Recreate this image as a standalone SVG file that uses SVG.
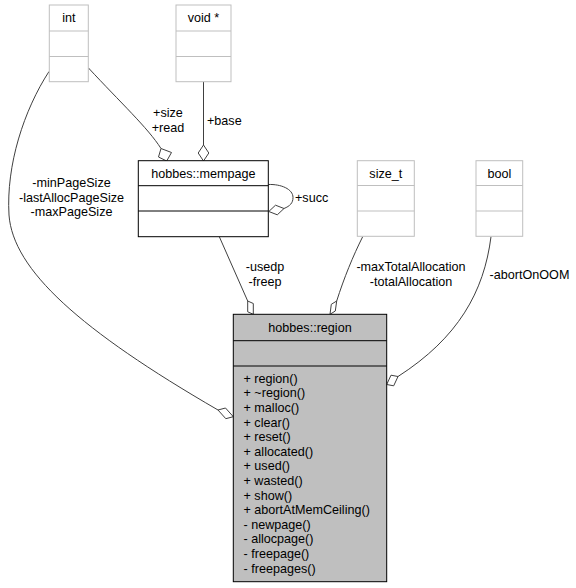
<svg xmlns="http://www.w3.org/2000/svg" width="576" height="588" viewBox="0 0 576 588">
<style>
text { font-family: "Liberation Sans", Arial, sans-serif; font-size: 12.6px; fill: #000; }
.c { text-anchor: middle; }
.ext rect, .ext line { fill: #fff; stroke: #bfbfbf; stroke-width: 1; }
.ext line { fill: none; }
.cls rect { fill: #fff; stroke: #000; stroke-width: 1; }
.cls line { stroke: #000; stroke-width: 1; }
.main rect { fill: #bfbfbf; stroke: #000; stroke-width: 1; }
.main line { stroke: #000; stroke-width: 1; }
.edge { fill: none; stroke: #404040; stroke-width: 1; }
.dia { fill: #fff; stroke: #404040; stroke-width: 1; }
</style>
<rect width="576" height="588" fill="#fff"/>

<g id="edges">
  <!-- int -> mempage -->
  <path class="edge" d="M88.5,68 C120,102 148,128 161,148.5"/>
  <polygon class="dia" points="166.7,161 171.5,152.5 161,148.5 158.5,157"/>
  <!-- void* -> mempage -->
  <path class="edge" d="M203.5,81.7 L203.5,145"/>
  <polygon class="dia" points="203.5,161 198.2,153 203.5,145 208.8,153"/>
  <!-- mempage self loop -->
  <path class="edge" d="M268.3,184.5 C281,184 293,189 293,197.5 C293,203 290,206 284,208.5"/>
  <polygon class="dia" points="268.8,211.5 275.5,205.2 284,208.5 277.3,214.8"/>
  <!-- int -> region -->
  <path class="edge" d="M49,71.5 C24,110 6,165 9,215 C13,270 80,330 218,410"/>
  <polygon class="dia" points="233.3,416.7 225.5,408 218,410 225.8,418.7"/>
  <!-- mempage -> region -->
  <path class="edge" d="M219.3,236.7 L247.7,301"/>
  <polygon class="dia" points="253.3,314.3 253.3,303.5 247.7,301 247.7,311.8"/>
  <!-- size_t -> region -->
  <path class="edge" d="M362.7,236.7 C353,256 344,278 336.7,301"/>
  <polygon class="dia" points="330,314.3 331.3,304.3 336.7,301 335.3,311"/>
  <!-- bool -> region -->
  <path class="edge" d="M491,236.7 C484,292 458,338 398,376.5"/>
  <polygon class="dia" points="386.7,384.5 391,375.2 398,376.5 393.7,385.8"/>
</g>

<g id="edge-labels">
  <text class="c" x="168" y="117">+size</text>
  <text class="c" x="168" y="132">+read</text>
  <text x="207" y="125">+base</text>
  <text class="c" x="71.5" y="187">-minPageSize</text>
  <text class="c" x="71.5" y="202">-lastAllocPageSize</text>
  <text class="c" x="71.5" y="216">-maxPageSize</text>
  <text x="295" y="202">+succ</text>
  <text class="c" x="265" y="271">-usedp</text>
  <text class="c" x="265" y="286">-freep</text>
  <text class="c" x="411" y="271">-maxTotalAllocation</text>
  <text class="c" x="411" y="286">-totalAllocation</text>
  <text class="c" x="529.5" y="279">-abortOnOOM</text>
</g>

<g id="node-int" class="ext">
  <rect x="49.3" y="5" width="39" height="76.7"/>
  <line x1="49.3" y1="31" x2="88.3" y2="31"/>
  <line x1="49.3" y1="56.5" x2="88.3" y2="56.5"/>
  <text class="c" x="68.8" y="22">int</text>
</g>

<g id="node-voidptr" class="ext">
  <rect x="176" y="5" width="55" height="76.7"/>
  <line x1="176" y1="31" x2="231" y2="31"/>
  <line x1="176" y1="56.5" x2="231" y2="56.5"/>
  <text class="c" x="203.5" y="22">void *</text>
</g>

<g id="node-mempage" class="cls">
  <rect x="138.3" y="160.7" width="130" height="76"/>
  <line x1="138.3" y1="185.7" x2="268.3" y2="185.7"/>
  <line x1="138.3" y1="211" x2="268.3" y2="211"/>
  <text class="c" x="203.3" y="178">hobbes::mempage</text>
</g>

<g id="node-size_t" class="ext">
  <rect x="357.3" y="160.7" width="57" height="75.6"/>
  <line x1="357.3" y1="185.5" x2="414.3" y2="185.5"/>
  <line x1="357.3" y1="211" x2="414.3" y2="211"/>
  <text class="c" x="385.8" y="178">size_t</text>
</g>

<g id="node-bool" class="ext">
  <rect x="476" y="160.7" width="46.7" height="75.6"/>
  <line x1="476" y1="185.5" x2="522.7" y2="185.5"/>
  <line x1="476" y1="211" x2="522.7" y2="211"/>
  <text class="c" x="499.3" y="178">bool</text>
</g>

<g id="node-region" class="main">
  <rect x="233.3" y="314.3" width="153.4" height="267.4"/>
  <line x1="233.3" y1="340.7" x2="386.7" y2="340.7"/>
  <line x1="233.3" y1="366" x2="386.7" y2="366"/>
  <text class="c" x="310" y="332">hobbes::region</text>
  <text x="243.5" y="382.8">+ region()</text>
  <text x="243.5" y="397.4">+ ~region()</text>
  <text x="243.5" y="412">+ malloc()</text>
  <text x="243.5" y="426.6">+ clear()</text>
  <text x="243.5" y="441.2">+ reset()</text>
  <text x="243.5" y="455.8">+ allocated()</text>
  <text x="243.5" y="470.4">+ used()</text>
  <text x="243.5" y="485">+ wasted()</text>
  <text x="243.5" y="499.6">+ show()</text>
  <text x="243.5" y="514.2">+ abortAtMemCeiling()</text>
  <text x="243.5" y="528.8">- newpage()</text>
  <text x="243.5" y="543.4">- allocpage()</text>
  <text x="243.5" y="558">- freepage()</text>
  <text x="243.5" y="572.6">- freepages()</text>
</g>
</svg>
